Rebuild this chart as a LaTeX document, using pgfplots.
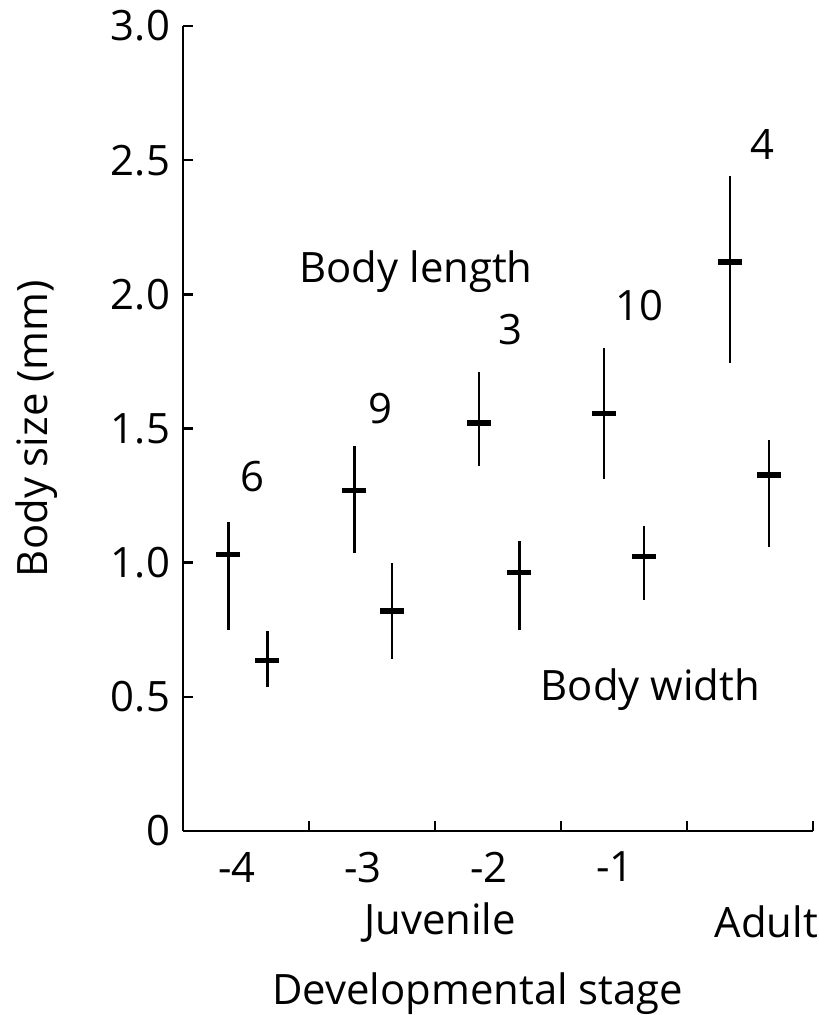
\documentclass[border=0pt]{standalone}
\usepackage{fontspec}
\setmainfont{Open Sans}
\usepackage{pgfplots}
\pgfplotsset{compat=1.18}

% mean, upper and lower error (mm), x = position inside each stage slot
\pgfplotstableread{
x    y     ep    em
0.36 1.03  0.12  0.28
1.36 1.27  0.165 0.235
2.35 1.52  0.19  0.16
3.34 1.555 0.245 0.245
4.34 2.12  0.32  0.375
}\lengthdata
\pgfplotstableread{
x    y     ep    em
0.67 0.635 0.112 0.10
1.66 0.82  0.18  0.18
2.67 0.964 0.116 0.214
3.66 1.024 0.112 0.164
4.65 1.326 0.131 0.269
}\widthdata

\begin{document}
\begin{tikzpicture}
\begin{axis}[
    name=ax,
    scale only axis,
    width=315bp, height=402.5bp,
    xmin=0, xmax=5, ymin=0, ymax=3,
    axis lines*=left,
    axis line style={line width=1.2bp},
    tick align=inside,
    major tick length=5bp,
    tick style={line width=1.2bp, black},
    ytick={0,0.5,1,1.5,2,2.5,3},
    yticklabels={0,0.5,1.0,1.5,2.0,2.5,3.0},
    yticklabel style={xshift=-3bp},
    xtick={1,2,3,4,5},
    xticklabels={},
    extra x ticks={0.43,1.43,2.43,3.43},
    extra x tick labels={-4,-3,-2,-1},
    extra x tick style={tick style={draw=none}, xticklabel style={yshift=-7bp}},
    font=\fontsize{21}{25}\selectfont,
    ticklabel style={font=\fontsize{21}{25}\selectfont},
    /pgf/number format/assume math mode=true,
    ylabel={Body size (mm)},
    ylabel style={at={(axis description cs:-0.233,0.5)}, anchor=center, rotate=0},
    xlabel={Developmental stage},
    xlabel style={at={(axis description cs:0.468,-0.202)}, anchor=center},
    clip=false,
]
\addplot[black, only marks, mark=-, mark size=6bp, mark options={line width=2.7bp},
    error bars/.cd, y dir=both, y explicit, error mark=none,
    error bar style={line width=1.3bp}]
    table[x=x, y=y, y error plus=ep, y error minus=em] {\lengthdata};
\addplot[black, only marks, mark=-, mark size=6bp, mark options={line width=2.7bp},
    error bars/.cd, y dir=both, y explicit, error mark=none,
    error bar style={line width=1.3bp}]
    table[x=x, y=y, y error plus=ep, y error minus=em] {\widthdata};

\node at (axis cs:0.55,1.32) {6};
\node at (axis cs:1.57,1.575) {9};
\node at (axis cs:2.60,1.87) {3};
\node at (axis cs:3.62,1.96) {10};
\node at (axis cs:4.60,2.56) {4};
\node at (axis cs:1.85,2.085) {Body length};
\node at (axis cs:3.71,0.527) {Body width};
\node at (axis cs:2.04,-0.34) {Juvenile};
\node at (axis cs:4.63,-0.34) {Adult};
\end{axis}
\pgfresetboundingbox
\path ([xshift=-91.5bp,yshift=-92bp]ax.south west) rectangle ([xshift=3bp,yshift=13bp]ax.north east);
\end{tikzpicture}
\end{document}
